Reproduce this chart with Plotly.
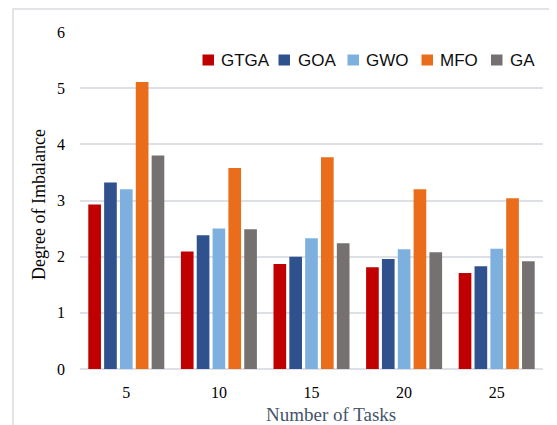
import plotly.graph_objects as go

tasks = ["5", "10", "15", "20", "25"]
series_names = ["GTGA", "GOA", "GWO", "MFO", "GA"]
gtga = [2.93, 2.09, 1.87, 1.81, 1.71]
goa = [3.32, 2.38, 2.00, 1.96, 1.83]
gwo = [3.20, 2.50, 2.33, 2.13, 2.14]
mfo = [5.11, 3.58, 3.77, 3.20, 3.04]
ga = [3.80, 2.49, 2.24, 2.08, 1.92]
colors = ["#C00000", "#2F528F", "#7EB0DF", "#E96D1A", "#767171"]
y_ticks = [0, 1, 2, 3, 4, 5, 6]

# page offset (body margin)
O = 8
W, H = 557 - O, 425 - O
# plot area in page pixels: x 80..543, y 32..369
PL, PR, PT, PB = 80, 543, 32, 369
L, T = PL - O, PT - O
R, B = W - (PR - O), H - (PB - O)
pw, ph = PR - PL, PB - PT

def px(x):
    return (x - PL) / pw

def py(y):
    return (PB - y) / ph

fig = go.Figure()
for name, vals, c in zip(series_names, [gtga, goa, gwo, mfo, ga], colors):
    fig.add_trace(go.Bar(x=tasks, y=vals, name=name, marker=dict(color=c, line=dict(width=0)),
                         showlegend=False))

shapes = []
annotations = []
# outer frame
shapes.append(dict(type="rect", xref="paper", yref="paper", x0=px(13), x1=px(570),
                   y0=py(440), y1=py(9), line=dict(color="#D9DCE1", width=1.5), layer="below"))
# manual legend
leg_sq = [202.5, 278.5, 347.5, 421.5, 491]
leg_tx = [219, 296, 364, 438, 507.5]
for name, c, sx, tx in zip(series_names, colors, leg_sq, leg_tx):
    shapes.append(dict(type="rect", xref="paper", yref="paper", x0=px(sx), x1=px(sx + 11.5),
                       y0=py(65.5), y1=py(54.5), fillcolor=c, line=dict(width=0)))
    annotations.append(dict(text=name, xref="paper", yref="paper", x=px(tx), y=py(60.5),
                            xanchor="left", yanchor="middle", showarrow=False,
                            font=dict(family="Liberation Sans", size=17, color="#0D0D0D")))
annotations.append(dict(text="Number of Tasks", xref="paper", yref="paper", x=px(331), y=py(414),
                        xanchor="center", yanchor="middle", showarrow=False,
                        font=dict(family="Liberation Serif", size=19, color="#44546A")))
annotations.append(dict(text="Degree of Imbalance", xref="paper", yref="paper", x=px(38.5), y=py(204.5),
                        xanchor="center", yanchor="middle", showarrow=False, textangle=-90,
                        font=dict(family="Liberation Serif", size=18, color="#000000")))

fig.update_layout(
    width=W, height=H,
    margin=dict(l=L, r=R, t=T, b=B, pad=0),
    paper_bgcolor="white", plot_bgcolor="white",
    barmode="group", bargap=0.145, bargroupgap=0.2,
    shapes=shapes, annotations=annotations,
    xaxis=dict(type="category", showgrid=False, showline=False, zeroline=False,
               ticks="", ticklabelstandoff=12,
               tickfont=dict(family="Liberation Serif", size=16, color="#000000")),
    yaxis=dict(range=[0, 6], tickvals=y_ticks, showgrid=True, gridcolor="#DDE1E7", gridwidth=1.5,
               zeroline=True, zerolinecolor="#DDE1E7", zerolinewidth=1.5, showline=False,
               ticks="", ticklabelstandoff=14,
               tickfont=dict(family="Liberation Serif", size=16, color="#000000")),
)

fig.write_html("out.html")
